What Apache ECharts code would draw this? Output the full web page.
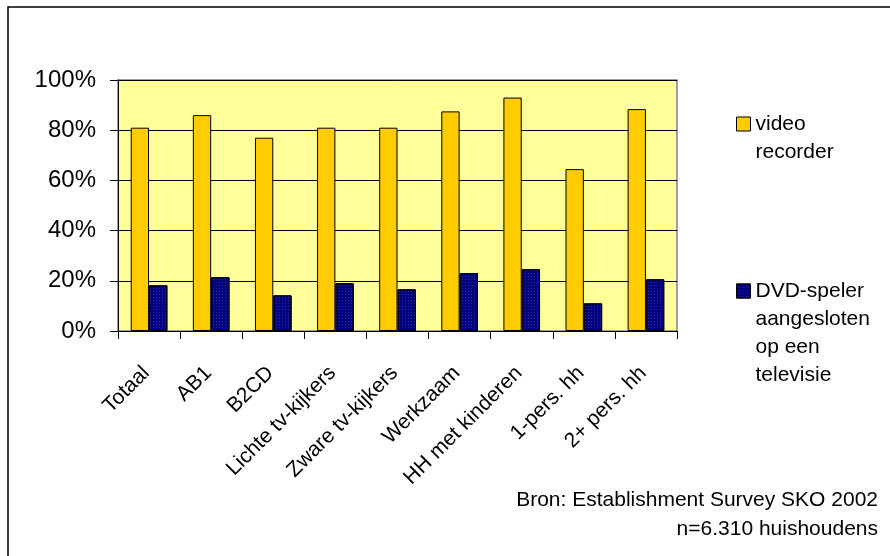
<!DOCTYPE html>
<html>
<head>
<meta charset="utf-8">
<script src="https://cdn.jsdelivr.net/npm/echarts@6/dist/echarts.min.js"></script>
<style>
html,body{margin:0;padding:0;background:#fff;}
#chart{width:890px;height:556px;}
</style>
</head>
<body>
<div id="chart"></div>
<script>
var categories = ['Totaal','AB1','B2CD','Lichte tv-kijkers','Zware tv-kijkers','Werkzaam','HH met kinderen','1-pers. hh','2+ pers. hh'];
var videoRecorder = [81, 86, 77, 81, 81, 87.5, 93, 64.5, 88.4];
var dvdSpeler = [18.2, 21.4, 14.2, 19, 16.6, 23.1, 24.6, 11, 20.6];
var seriesNames = ['video\nrecorder', 'DVD-speler\naangesloten\nop een\ntelevisie'];
var yTicks = [0, 20, 40, 60, 80, 100];
var sourceLines = ['Bron: Establishment Survey SKO 2002', 'n=6.310 huishoudens'];

var FONT = '"Liberation Sans", Arial, sans-serif';
function firstLineFormatter(name) {
  var n = name.split('\n').length;
  var pre = '';
  for (var i = 1; i < n; i++) pre += '\n';
  return pre + name;
}
var chart = echarts.init(document.getElementById('chart'), null, {renderer:'canvas'});
var legendCommon = {
  orient: 'vertical', padding: 0, itemWidth: 14, itemHeight: 14, icon: 'rect',
  itemGap: 6,
  itemStyle: {borderColor: '#000', borderWidth: 1},
  formatter: firstLineFormatter,
  textStyle: {fontFamily: FONT, fontSize: 21, color: '#000', lineHeight: 28}
};
var option = {
  animation: false,
  backgroundColor: '#ffffff',
  grid: {left: 118, right: 213, top: 80, bottom: 225, show: true, backgroundColor: '#FFFF99', borderColor: '#808080', borderWidth: 1.5},
  xAxis: {
    type: 'category', data: categories,
    axisLine: {show: true, lineStyle: {color: '#000', width: 1}},
    axisTick: {show: true, length: 8, lineStyle: {color: '#000'}},
    axisLabel: {rotate: 45, interval: 0, margin: 36, color: '#000', fontFamily: FONT, fontSize: 21, padding: [0, 4, 8, 0]},
    splitLine: {show: false}
  },
  yAxis: {
    type: 'value', min: yTicks[0], max: yTicks[yTicks.length-1], interval: 20,
    axisLine: {show: true, lineStyle: {color: '#000', width: 1}},
    axisTick: {show: true, length: 8, lineStyle: {color: '#000'}},
    axisLabel: {formatter: '{value}%', color: '#000', fontFamily: FONT, fontSize: 24, margin: 22},
    splitLine: {show: true, lineStyle: {color: '#000', width: 1}}
  },
  legend: [
    Object.assign({data: [seriesNames[0]], left: 736, top: 82}, legendCommon),
    Object.assign({data: [seriesNames[1]], left: 736, top: 193}, legendCommon)
  ],
  graphic: [
    {type: 'rect', shape: {x: 8, y: 7, width: 900, height: 570}, style: {fill: 'none', stroke: '#000', lineWidth: 1.5}, silent: true},
    {type: 'text', x: 878, y: 500, style: {text: sourceLines[0], font: '21px ' + FONT, fill: '#000', align: 'right', verticalAlign: 'middle'}},
    {type: 'text', x: 878, y: 529, style: {text: sourceLines[1], font: '21px ' + FONT, fill: '#000', align: 'right', verticalAlign: 'middle'}}
  ],
  series: [
    {name: seriesNames[0], type: 'bar', data: videoRecorder, barWidth: '29.5%', barGap: '0%',
     itemStyle: {color: '#FFCC00', borderColor: '#000', borderWidth: 1}},
    {name: seriesNames[1], type: 'bar', data: dvdSpeler, barWidth: '29.5%', barGap: '0%',
     itemStyle: {color: '#000080', borderColor: '#000', borderWidth: 1,
       decal: {symbol: 'rect', symbolSize: 1, dashArrayX: [1, 2], dashArrayY: [1, 2], color: 'rgba(70,70,170,0.6)'}}}
  ]
};
chart.setOption(option);
</script>
</body>
</html>
